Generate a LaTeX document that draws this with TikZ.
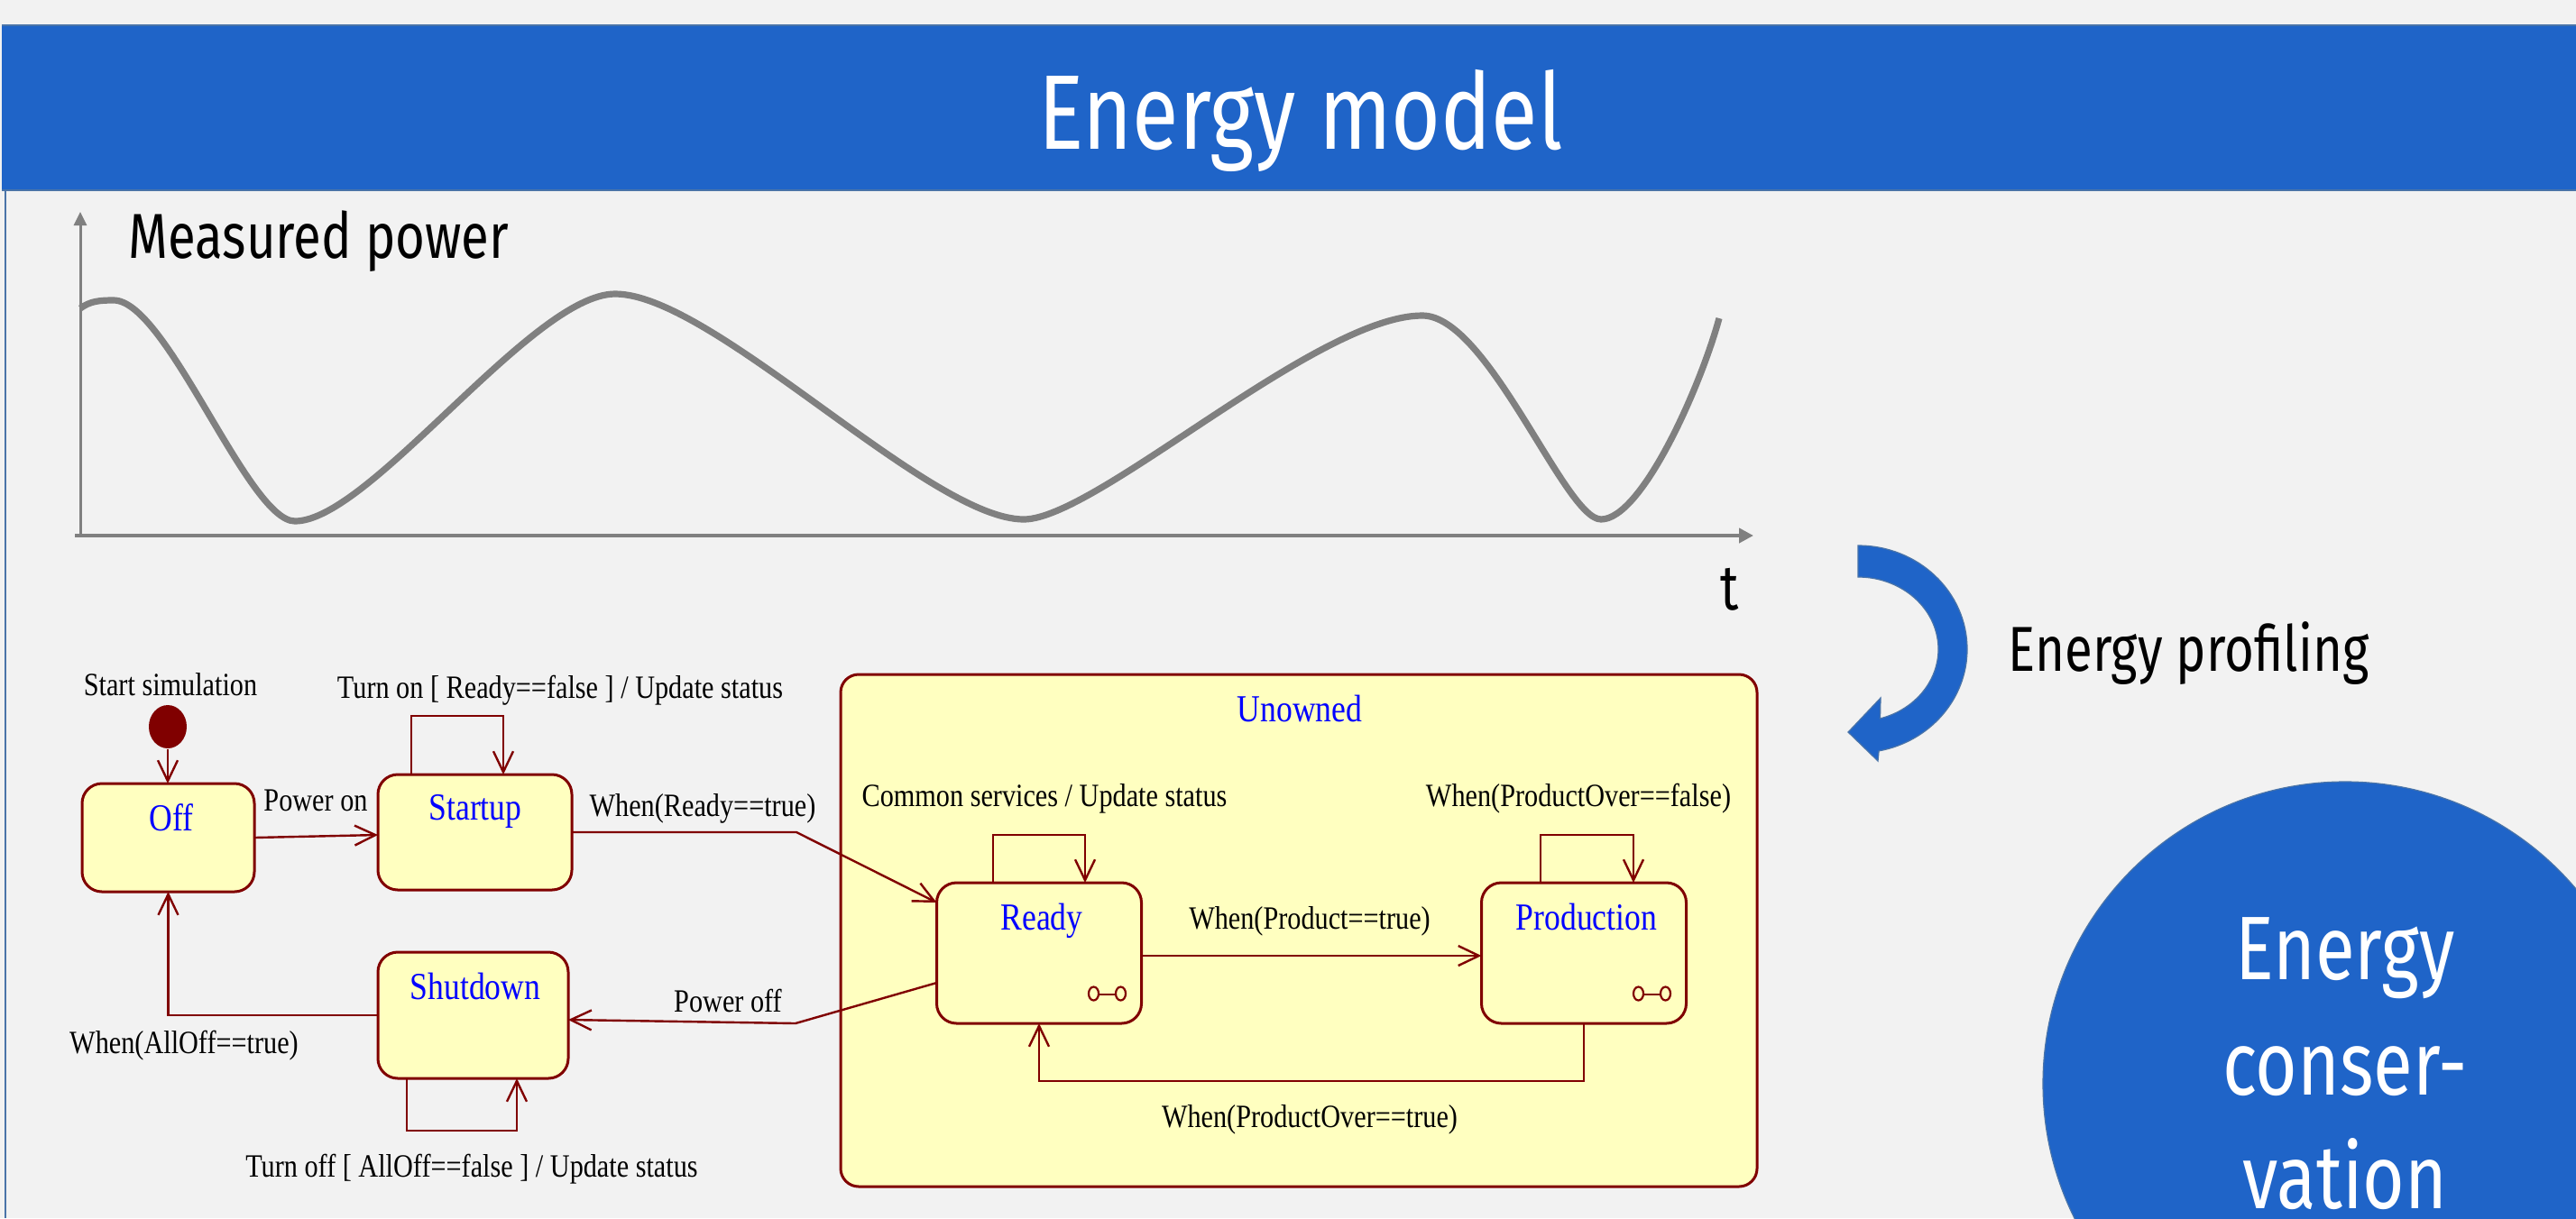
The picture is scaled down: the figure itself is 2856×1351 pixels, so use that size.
\documentclass[tikz,border=0pt]{standalone}
\usepackage{fontspec}
\setmainfont{Liberation Serif}
\newfontfamily\csans[FakeStretch=0.80]{Fira Sans}
\newfontfamily\cserif[FakeStretch=0.84]{Liberation Serif}
\usetikzlibrary{arrows.meta,calc,shapes.geometric}
\definecolor{bgc}{HTML}{F2F2F2}
\definecolor{tblue}{HTML}{1F64C8}
\definecolor{dred}{HTML}{800000}
\definecolor{yel}{HTML}{FFFFC0}
\definecolor{axg}{HTML}{808080}
\definecolor{lineb}{HTML}{4A74A8}
\begin{document}
\begin{tikzpicture}[x=0.25pt,y=-0.25pt,
  stbox/.style={draw=dred, fill=yel, line width=0.75pt, rounded corners=5.5pt, inner sep=0pt, outer sep=0pt},
  stname/.style={text=blue, font=\cserif\fontsize{10.6pt}{12pt}\selectfont, anchor=base, inner sep=0pt},
  lbl/.style={text=black, font=\cserif\fontsize{9pt}{11pt}\selectfont, anchor=base, inner sep=0pt},
  arr/.style={draw=dred, line width=0.6pt, -{Straight Barb[length=5.75pt,width=5.5pt]}},
  ln/.style={draw=dred, line width=0.6pt},
  bigtxt/.style={text=white, font=\csans\fontsize{25pt}{30pt}\selectfont, anchor=base, inner sep=0pt},
]
\useasboundingbox (0,0) rectangle (2856,1351);
\clip (0,0) rectangle (2856,1351);
\fill[bgc] (0,0) rectangle (2856,1351);
% title bar
\fill[tblue] (2,28) rectangle (2860,211);
\draw[lineb, line width=0.5pt] (2,28) -- (2860,28);
\draw[lineb, line width=0.5pt] (2,211) -- (2860,211);
\draw[lineb, line width=0.5pt] (6,211) -- (6,1351);
\node[text=white, font=\csans\fontsize{29.4pt}{34pt}\selectfont, anchor=base, inner sep=0pt] (title) at (1442,165) {Energy model};

% measured power plot
\coordinate (origin) at (89,594);
\coordinate (ytop) at (89,235);
\coordinate (xend) at (1944,594);
\draw[axg, line width=0.75pt, -{Triangle[length=3.75pt,width=3.5pt]}] (origin) -- (ytop);
\draw[axg, line width=1pt, -{Triangle[length=4pt,width=4pt]}] (83,594) -- (xend);
\node[font=\csans\fontsize{17.6pt}{20pt}\selectfont, anchor=base west, inner sep=0pt] (mp) at (142,286) {Measured power};
\node[font=\csans\fontsize{17.6pt}{20pt}\selectfont, anchor=base, inner sep=0pt] (tlab) at (1918,676) {t};
\draw[axg, line width=1.8pt]
  (89,342) .. controls (100,334) and (110,333) .. (126,333)
  .. controls (185,333) and (275,578) .. (327,578)
  .. controls (410,578) and (590,326) .. (682,326)
  .. controls (790,326) and (1030,576) .. (1135,576)
  .. controls (1215,576) and (1460,350) .. (1577,350)
  .. controls (1650,350) and (1735,576) .. (1775,576)
  .. controls (1820,576) and (1885,430) .. (1906,353);

% energy profiling arrow
\fill[tblue, draw=lineb, line width=0.3pt] (2060,605) arc[start angle=-90, end angle=79, x radius=121, y radius=115]
  -- (2082,844) -- (2049,812) -- (2085,774) -- (2084.5,796.9)
  arc[start angle=74, end angle=-90, x radius=89, y radius=80] -- cycle;
\node[font=\csans\fontsize{17.6pt}{20pt}\selectfont, anchor=base west, inner sep=0pt] (prof) at (2226,744) {Energy profiling};

% energy conservation circle
\node[ellipse, fill=tblue, draw=lineb, line width=0.3pt, minimum width=167.5pt, minimum height=167.5pt, inner sep=0pt] (cons) at (2600,1202) {};
\node[bigtxt] (c1) at (2600,1086) {Energy};
\node[bigtxt] (c2) at (2600,1214) {conser-};
\node[bigtxt] (c3) at (2600,1340) {vation};

% state machine
\node[stbox, minimum width=254pt, minimum height=142pt, rounded corners=5pt] (unowned) at (1440,1032) {};
\node[stname] (n-unowned) at (1441,800) {Unowned};

\node[ellipse, fill=dred, minimum width=10.5pt, minimum height=12pt, inner sep=0pt] (init) at (186,806) {};
\node[lbl] (l-start) at (189,771) {Start simulation};

\node[stbox, minimum width=47.75pt, minimum height=30pt] (off) at (186.5,929) {};
\node[stname] (n-off) at (190,921) {Off};
\node[stbox, minimum width=53.75pt, minimum height=32pt] (startup) at (526.5,923) {};
\node[stname] (n-startup) at (527,909) {Startup};
\node[stbox, minimum width=52.75pt, minimum height=35pt] (shutdown) at (524.5,1126) {};
\node[stname] (n-shutdown) at (527,1108) {Shutdown};
\node[stbox, minimum width=56.75pt, minimum height=39pt] (ready) at (1152,1057) {};
\node[stname] (n-ready) at (1155,1031) {Ready};
\node[stbox, minimum width=56.75pt, minimum height=39pt] (prod) at (1756,1057) {};
\node[stname] (n-prod) at (1759,1031) {Production};

% o-o symbols
\foreach \n in {ready,prod}{
  \draw[dred, line width=0.55pt] ($(\n.south east)+(-53,-33)$) ellipse[x radius=5.5, y radius=7.5];
  \draw[dred, line width=0.55pt] ($(\n.south east)+(-23,-33)$) ellipse[x radius=5.5, y radius=7.5];
  \draw[dred, line width=0.55pt] ($(\n.south east)+(-47.5,-32)$) -- ($(\n.south east)+(-28.5,-32)$);
}

% transitions
\draw[arr] (init.south) -- (init.south |- off.north);
\draw[arr] (off.east) -- ($(startup.west)+(0,3)$);
\node[lbl] (l-poweron) at (350,899) {Power on};

\draw[arr] ($(startup.north)+(-70.5,0)$) -- ++(0,-65) -| ($(startup.north)+(31.5,0)$);
\node[lbl] (l-turnon) at (621,774) {Turn on [ Ready==false ] / Update status};

\coordinate (b1) at (883,923);
\draw[arr] (startup.east) -- (b1) -- ($(ready.north west)+(0,22)$);
\node[lbl] (l-readytrue) at (779,905) {When(Ready==true)};

\coordinate (b2) at (882,1135);
\draw[arr] ($(ready.west)+(0,33)$) -- (b2) -- ($(shutdown.east)+(0,5)$);
\node[lbl] (l-poweroff) at (807,1122) {Power off};

\draw[arr] (shutdown.west) -- (off.south |- shutdown.west) -- (off.south);
\node[lbl] (l-alloff) at (204,1168) {When(AllOff==true)};

\draw[arr] ($(shutdown.south)+(-73.5,0)$) -- ++(0,58) -| ($(shutdown.south)+(48.5,0)$);
\node[lbl] (l-turnoff) at (523,1305) {Turn off [ AllOff==false ] / Update status};

\draw[arr] ($(ready.north)+(-51,0)$) -- ++(0,-53) -| ($(ready.north)+(51,0)$);
\node[lbl] (l-common) at (1158,894) {Common services / Update status};

\draw[arr] ($(prod.north)+(-48,0)$) -- ++(0,-53) -| ($(prod.north)+(55,0)$);
\node[lbl] (l-povfalse) at (1750,894) {When(ProductOver==false)};

\draw[arr] ($(ready.east)+(0,3)$) -- ($(prod.west)+(0,3)$);
\node[lbl] (l-product) at (1452,1030) {When(Product==true)};

\draw[arr] (prod.south) -- ++(0,64) -| (ready.south);
\node[lbl] (l-povtrue) at (1452,1250) {When(ProductOver==true)};
\end{tikzpicture}
\end{document}
